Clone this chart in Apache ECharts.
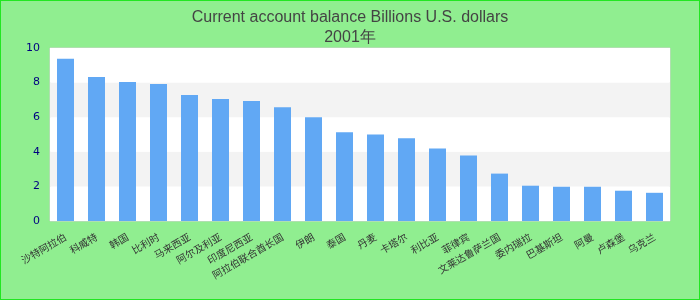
<!DOCTYPE html>
<html>
<head>
<meta charset="utf-8">
<script src="https://cdn.jsdelivr.net/npm/echarts@6/dist/echarts.min.js"></script>
<style>
html,body{margin:0;padding:0;background:#90ee90;}
#c{width:700px;height:300px;box-sizing:border-box;border:1px solid #22e622;}
</style>
</head>
<body>
<div id="c"></div>
<script>
const titleLines = ['Current account balance Billions U.S. dollars', '2001年'];
const categories = ['沙特阿拉伯','科威特','韩国','比利时','马来西亚','阿尔及利亚','印度尼西亚','阿拉伯联合酋长国','伊朗','泰国','丹麦','卡塔尔','利比亚','菲律宾','文莱达鲁萨兰国','委内瑞拉','巴基斯坦','阿曼','卢森堡','乌克兰'];
const values = [9.38, 8.33, 8.04, 7.92, 7.28, 7.05, 6.93, 6.58, 6.0, 5.13, 5.0, 4.78, 4.19, 3.79, 2.74, 2.04, 1.98, 1.98, 1.75, 1.63];
const yTicks = [0, 2, 4, 6, 8, 10];

const chart = echarts.init(document.getElementById('c'), null, {renderer: 'canvas'});
chart.setOption({
  backgroundColor: '#90ee90',
  animation: false,
  title: {
    text: titleLines.join('\n'),
    left: 'center',
    top: 2,
    textStyle: {color: '#444', fontSize: 16, fontWeight: 'normal', fontFamily: 'Liberation Sans, Arial, sans-serif', lineHeight: 20}
  },
  grid: {left: 49, right: 29, top: 47, bottom: 78, show: true, backgroundColor: '#fff', borderColor: '#d0d0d0', borderWidth: 1},
  xAxis: {
    type: 'category',
    data: categories,
    axisLine: {show: false},
    axisTick: {show: false},
    axisLabel: {rotate: 30, interval: 0, margin: 15, color: '#333', fontSize: 10, fontFamily: 'Noto Sans CJK SC, sans-serif'}
  },
  yAxis: {
    type: 'value',
    min: yTicks[0],
    max: yTicks[yTicks.length - 1],
    interval: 2,
    axisLine: {show: false},
    axisTick: {show: false},
    splitLine: {show: false},
    splitArea: {show: true, areaStyle: {color: ['#ffffff', '#f3f3f3']}},
    axisLabel: {color: '#000080', fontSize: 11, margin: 10, fontFamily: 'DejaVu Sans, sans-serif'}
  },
  series: [{
    type: 'bar',
    data: values,
    barWidth: 17,
    itemStyle: {color: '#61a8f4'}
  }]
});
</script>
</body>
</html>
